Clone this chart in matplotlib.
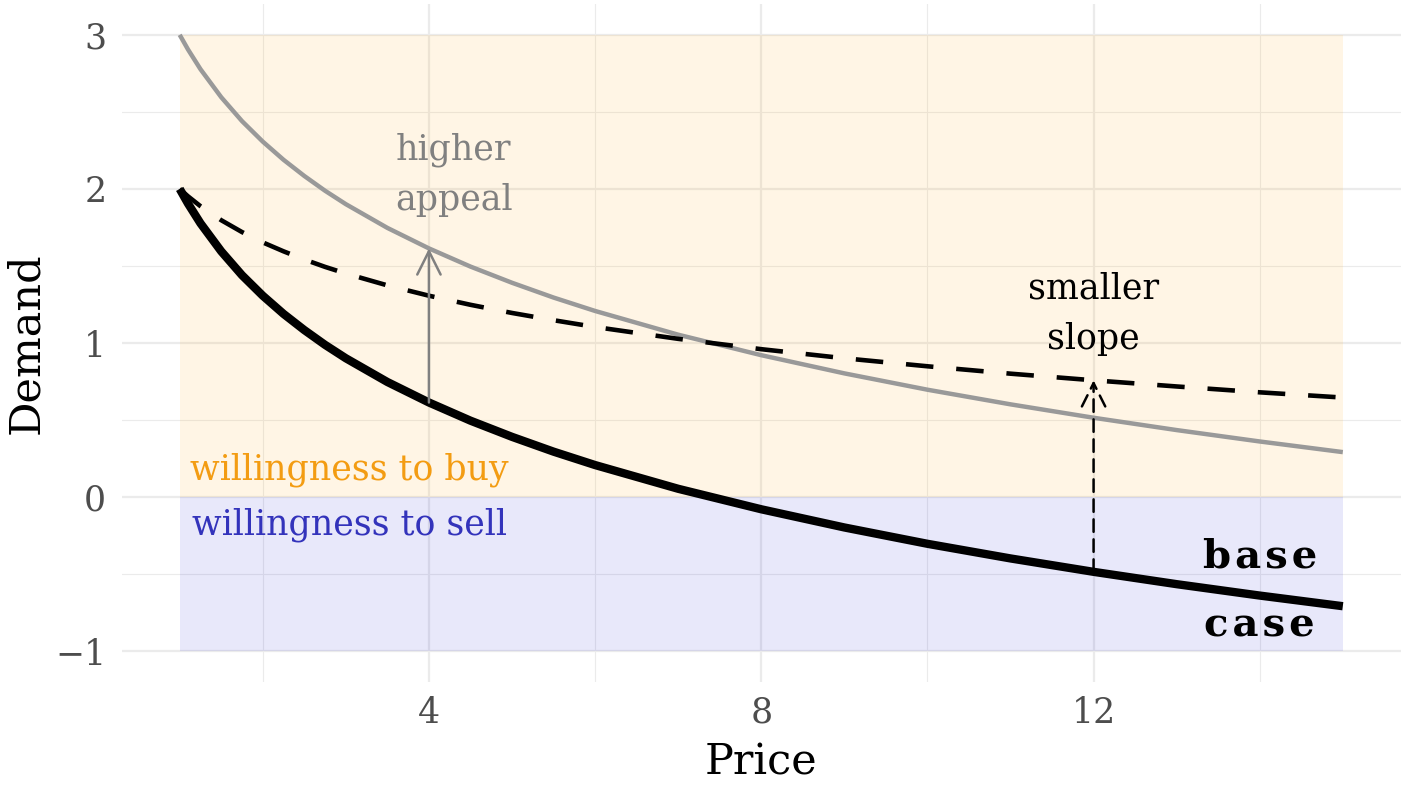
import numpy as np
import matplotlib
matplotlib.use("Agg")
import matplotlib.pyplot as plt

plt.rcParams["font.family"] = ["DejaVu Serif"]

# demand curves
price = [1, 1.1, 1.25, 1.5, 1.75, 2, 2.25, 2.5, 2.75, 3, 3.5, 4, 4.5, 5, 5.5, 6, 7, 8, 9, 10, 11, 12, 13, 14, 15]
base_case = [2.000, 1.905, 1.777, 1.595, 1.440, 1.307, 1.189, 1.084, 0.988, 0.901, 0.747, 0.614, 0.496,
             0.391, 0.295, 0.208, 0.054, -0.079, -0.197, -0.303, -0.398, -0.485, -0.565, -0.639, -0.708]
higher_appeal = [3.000, 2.905, 2.777, 2.595, 2.440, 2.307, 2.189, 2.084, 1.988, 1.901, 1.747, 1.614, 1.496,
                 1.391, 1.295, 1.208, 1.054, 0.921, 0.803, 0.697, 0.602, 0.515, 0.435, 0.361, 0.292]
smaller_slope = [2.000, 1.952, 1.888, 1.797, 1.720, 1.653, 1.595, 1.542, 1.494, 1.451, 1.374, 1.307, 1.248,
                 1.195, 1.148, 1.104, 1.027, 0.960, 0.901, 0.849, 0.801, 0.758, 0.718, 0.680, 0.646]
arrow_appeal = (4, 0.614, 1.614)
arrow_slope = (12, -0.485, 0.758)

fig = plt.figure(figsize=(14.1, 7.87), dpi=100)
ax = fig.add_axes([0.0862, 0.1334, 0.9074, 0.8615])

ax.set_xlim(0.3, 15.7)
ax.set_ylim(-1.2, 3.2)
ax.set_xticks([4, 8, 12])
ax.set_xticks([2, 6, 10, 14], minor=True)
ax.set_yticks([-1, 0, 1, 2, 3])
ax.set_yticks([-0.5, 0.5, 1.5, 2.5], minor=True)
ax.set_yticklabels(["\u22121", "0", "1", "2", "3"])
ax.grid(which="major", color="#EBEBEB", lw=1.6)
ax.grid(which="minor", color="#EBEBEB", lw=0.8)
ax.set_axisbelow(True)
for s in ax.spines.values():
    s.set_visible(False)
ax.tick_params(which="both", length=0, labelsize=25, labelcolor="#4D4D4D")
ax.tick_params(axis="y", pad=11)
ax.tick_params(axis="x", pad=10)
ax.set_xlabel("Price", fontsize=31, labelpad=8)
ax.set_ylabel("Demand", fontsize=31, labelpad=6)

ax.fill_between([price[0], price[-1]], 0, 3, color="#FFA500", alpha=0.1, lw=0, zorder=1)
ax.fill_between([price[0], price[-1]], -1, 0, color="#0000CC", alpha=0.09, lw=0, zorder=1)

ax.plot(price, higher_appeal, color="#999999", lw=3.2, zorder=3, solid_capstyle="butt")
ax.plot(price, smaller_slope, color="black", lw=3.3, dashes=(6, 5), zorder=3)
ax.plot(price, base_case, color="black", lw=6, zorder=4, solid_capstyle="butt")

ax.annotate("", xy=(arrow_appeal[0], arrow_appeal[2]), xytext=(arrow_appeal[0], arrow_appeal[1]),
            arrowprops=dict(arrowstyle="->", color="#808080", lw=1.8, mutation_scale=42,
                            shrinkA=0, shrinkB=0), zorder=5)
ax.annotate("", xy=(arrow_slope[0], arrow_slope[2]), xytext=(arrow_slope[0], arrow_slope[1]),
            arrowprops=dict(arrowstyle="->", color="black", lw=1.8, ls=(0, (5, 3)), mutation_scale=42,
                            shrinkA=0, shrinkB=0), zorder=5)

ax.text(4.3, 2.09, "higher\nappeal", color="#808080", fontsize=25, ha="center", va="center",
        linespacing=1.6, zorder=6)
ax.text(12.0, 1.19, "smaller\nslope", color="black", fontsize=25, ha="center", va="center",
        linespacing=1.6, zorder=6)
ax.text(1.12, 0.175, "willingness to buy", color="#F39C12", fontsize=25, ha="left", va="center", zorder=6)
ax.text(1.15, -0.18, "willingness to sell", color="#3333BB", fontsize=25, ha="left", va="center", zorder=6)
hs = "\u200a"
ax.text(14.0, -0.61, hs.join("base") + "\n" + hs.join("case"), color="black", fontsize=29,
        fontweight="bold", ha="center", va="center", linespacing=2.05, zorder=6)

fig.savefig("out.png", dpi=100)
